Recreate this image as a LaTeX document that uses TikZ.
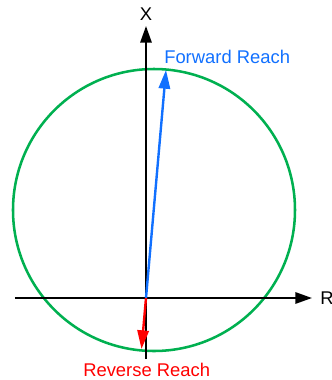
\documentclass[tikz,border=0pt]{standalone}
\usepackage{fontspec}
\setmainfont{Liberation Sans}
\usetikzlibrary{arrows.meta}
\definecolor{reachgreen}{RGB}{0,176,80}
\definecolor{reachblue}{RGB}{17,112,255}
\definecolor{reachred}{RGB}{255,0,0}
\tikzset{
  axis/.style={line width=1.5pt, -{Triangle[length=12.5pt, width=8.5pt]}},
  reach/.style={line width=1.8pt, -{Triangle[length=14pt, width=8.5pt]}},
  lbl/.style={font=\fontsize{13.8}{16}\selectfont, inner sep=0pt}
}

\begin{document}
\begin{tikzpicture}[x=0.75pt, y=-0.75pt]
  \useasboundingbox (0,0) rectangle (332,380);
  \coordinate (O) at (146,298);
  \coordinate (xs) at (15,298);
  \coordinate (xe) at (312,298);
  \coordinate (ys) at (146,359);
  \coordinate (ye) at (146,26);
  \coordinate (fw) at (166,70);
  \coordinate (rv) at (141.5,349);
  % envelope
  \draw[reachgreen, line width=1.9pt] (154,210) circle[radius=141];
  % axes
  \draw[axis] (xs) -- (xe);
  \draw[axis] (ys) -- (ye);
  \node[lbl] (X) at (146,14) {X};
  \node[lbl, anchor=west] (R) at (320,298) {R};
  % reach vectors
  \draw[reach, reachblue] (O) -- (fw);
  \draw[reach, reachred] (O) -- (rv);
  \node[lbl, anchor=base west, text=reachblue] (fwd) at (164,63) {Forward Reach};
  \node[lbl, anchor=base west, text=reachred] (rev) at (83,376) {Reverse Reach};
\end{tikzpicture}
\end{document}
